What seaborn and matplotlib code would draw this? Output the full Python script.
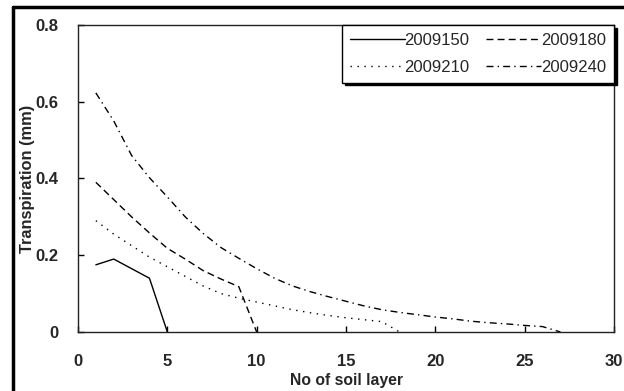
import matplotlib
matplotlib.use("Agg")
import matplotlib.pyplot as plt
import seaborn as sns
import pandas as pd
from matplotlib.lines import Line2D
from matplotlib.ticker import FuncFormatter

# transpiration per soil layer
layers_150 = [1, 2, 3, 4, 5]
tr_150 = [0.175, 0.19, 0.165, 0.14, 0.0]

layers_180 = [1, 2, 3, 4, 5, 6, 7, 8, 9, 10]
tr_180 = [0.39, 0.345, 0.30, 0.258, 0.218, 0.19, 0.16, 0.138, 0.118, 0.0]

layers_210 = list(range(1, 19))
tr_210 = [0.29, 0.255, 0.225, 0.195, 0.17, 0.145, 0.12, 0.10, 0.088, 0.078,
          0.068, 0.058, 0.05, 0.043, 0.037, 0.032, 0.027, 0.0]

layers_240 = list(range(1, 28))
tr_240 = [0.623, 0.55, 0.46, 0.402, 0.352, 0.30, 0.257, 0.22, 0.192, 0.165,
          0.14, 0.12, 0.105, 0.092, 0.08, 0.068, 0.058, 0.051, 0.045, 0.039,
          0.034, 0.028, 0.024, 0.021, 0.017, 0.014, 0.0]

labels = ["2009150", "2009180", "2009210", "2009240"]

sns.set_style("ticks")
plt.rcParams['font.family'] = ['Liberation Sans', 'DejaVu Sans']

fig = plt.figure(figsize=(6.24, 3.91), dpi=100)
ax = fig.add_axes([0.125, 0.151, 0.859, 0.785])

styles = ["-", (0, (5, 3)), (0, (1, 4)), (0, (5, 3, 1, 3))]
series = [(layers_150, tr_150), (layers_180, tr_180),
          (layers_210, tr_210), (layers_240, tr_240)]

for (xs, ys), lab, ls in zip(series, labels, styles):
    d = pd.DataFrame({"layer": xs, "tr": ys})
    sns.lineplot(data=d, x="layer", y="tr", color="black", linewidth=1.0,
                 linestyle=ls, label=lab, ax=ax)

ax.set_xlim(0, 30)
ax.set_ylim(0, 0.8)
ax.set_xticks([0, 5, 10, 15, 20, 25, 30])
ax.set_yticks([0, 0.2, 0.4, 0.6, 0.8])
ax.yaxis.set_major_formatter(FuncFormatter(lambda v, p: "0" if v == 0 else f"{v:.1f}"))
ax.tick_params(direction="in", length=4, width=1, color="black")
ax.tick_params(axis="y", pad=14, labelsize=12)
ax.tick_params(axis="x", pad=16, labelsize=12)
for t in ax.get_xticklabels() + ax.get_yticklabels():
    t.set_fontweight("bold")
for s in ax.spines.values():
    s.set_visible(True)
    s.set_linewidth(1.0)
    s.set_color("#222222")

ax.set_xlabel("No of soil layer", fontsize=11.3, fontweight="bold")
ax.set_ylabel("Transpiration (mm)", fontsize=11.8, fontweight="bold")
ax.xaxis.set_label_coords(0.5, -0.135)
ax.yaxis.set_label_coords(-0.081, 0.5)

# legend filled row by row like the original
handles, labs = ax.get_legend_handles_labels()
order = [0, 2, 1, 3]
leg = ax.legend([handles[i] for i in order], [labs[i] for i in order],
                loc="upper right", bbox_to_anchor=(1, 1), borderaxespad=0,
                ncol=2, fontsize=12, frameon=True, fancybox=False,
                handlelength=3.3, handletextpad=0.0, columnspacing=1.0,
                labelspacing=0.75, borderpad=0.45,
                shadow={"color": "black", "alpha": 1})
leg.get_frame().set_edgecolor("black")
leg.get_frame().set_linewidth(1.0)
leg.get_frame().set_alpha(1)

# thick outer frame of the original figure
fig.add_artist(Line2D([0.0215, 0.0215], [0, 0.982], transform=fig.transFigure,
                      color="black", linewidth=2.5))
fig.add_artist(Line2D([0.0215, 1.0], [0.982, 0.982], transform=fig.transFigure,
                      color="black", linewidth=2.5))

fig.savefig("out.png", dpi=100)
